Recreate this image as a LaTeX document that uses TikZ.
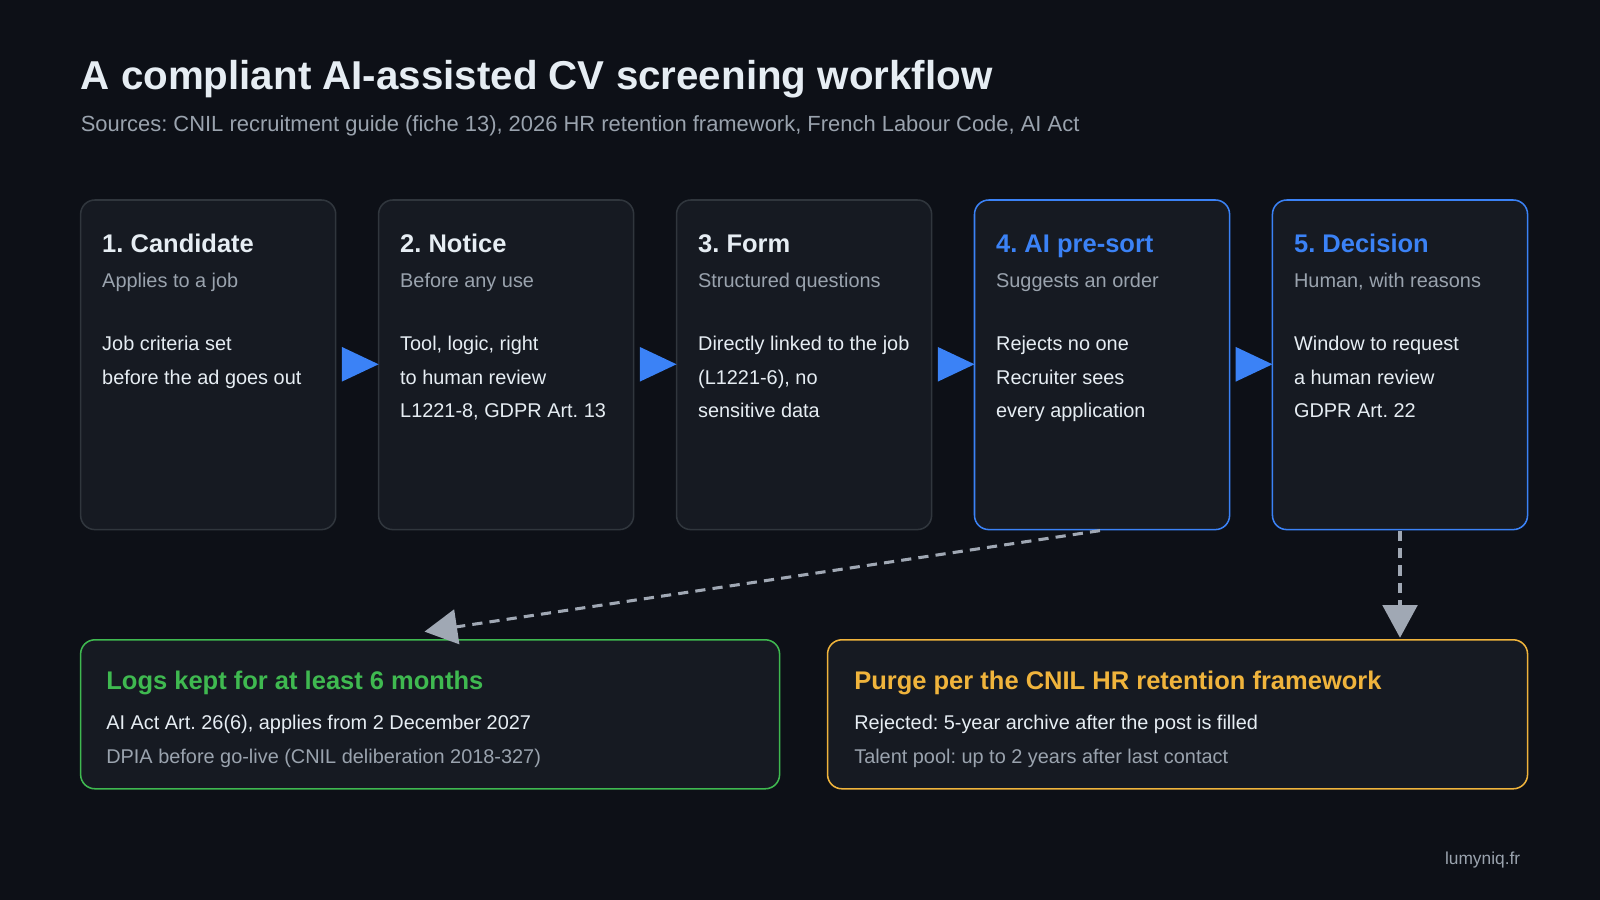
\documentclass[tikz,border=0pt]{standalone}
\usepackage{fontspec}
\setmainfont{Liberation Sans}
\usetikzlibrary{arrows.meta}
\definecolor{bg}{HTML}{0D1017}
\definecolor{boxbg}{HTML}{161A22}
\definecolor{boxln}{HTML}{30363D}
\definecolor{blu}{HTML}{3B82F6}
\definecolor{grn}{HTML}{3FB950}
\definecolor{yel}{HTML}{F0B43C}
\definecolor{txt}{HTML}{E6EDF3}
\definecolor{sub}{HTML}{9AA3AE}
\definecolor{dashc}{HTML}{A0A8B4}
\frenchspacing
\begin{document}
\begin{tikzpicture}[x=1pt,y=-1pt,
 box/.style={draw=boxln,line width=1.5pt,fill=boxbg,rounded corners=14pt},
 hd/.style={anchor=base west,font=\fontsize{25}{28}\selectfont\bfseries,text=txt},
 sb/.style={anchor=base west,font=\fontsize{19.5}{22}\selectfont,text=sub},
 bd/.style={anchor=north west,font=\fontsize{19.5}{33}\selectfont,text=txt,align=left,inner sep=0pt},
 dl/.style={dashc,line width=3pt,dash pattern=on 10pt off 7pt,-{Triangle[length=32pt,width=34pt]}}]
\useasboundingbox[fill=bg] (0,0) rectangle (1568,882);
\node[anchor=base west,inner sep=0pt,font=\fontsize{39.5}{44}\selectfont\bfseries,text=txt] (title) at (79,88) {A compliant AI-assisted CV screening workflow};
\node[anchor=base west,inner sep=0pt,font=\fontsize{21.5}{24}\selectfont,text=sub] (subt) at (79,129) {Sources: CNIL recruitment guide (fiche 13), 2026 HR retention framework, French Labour Code, AI Act};
\foreach \i/\x/\col in {1/79/boxln,2/371/boxln,3/663/boxln,4/955/blu,5/1247/blu}{
  \draw[box,draw=\col] (\x,196) rectangle ++(250,323);
}
\foreach \x/\h/\s/\b/\c in {
 79/{1. Candidate}/{Applies to a job}/{Job criteria set\\before the ad goes out}/txt,
 371/{2. Notice}/{Before any use}/{Tool, logic, right\\to human review\\L1221-8, GDPR Art. 13}/txt,
 663/{3. Form}/{Structured questions}/{Directly linked to the job\\(L1221-6), no\\sensitive data}/txt,
 955/{4. AI pre-sort}/{Suggests an order}/{Rejects no one\\Recruiter sees\\every application}/blu,
 1247/{5. Decision}/{Human, with reasons}/{Window to request\\a human review\\GDPR Art. 22}/blu}{
 \node[hd,inner sep=0pt,text=\c] at (\x+21,247) {\h};
 \node[sb,inner sep=0pt] at (\x+21,282) {\s};
 \node[bd] at (\x+21,329) {\b};
}
\foreach \x in {335,627,919,1211}{
 \fill[blu] (\x,340) -- (\x+36,357) -- (\x,374) -- cycle;
}
\draw[box,draw=grn] (79,627) rectangle (764,773);
\draw[box,draw=yel] (811,627) rectangle (1497,773);
\node[hd,inner sep=0pt,text=grn] (g) at (104,676) {Logs kept for at least 6 months};
\node[anchor=base west,inner sep=0pt,font=\fontsize{19.5}{22}\selectfont,text=txt] at (104,715) {AI Act Art. 26(6), applies from 2 December 2027};
\node[sb,inner sep=0pt] at (104,748) {DPIA before go-live (CNIL deliberation 2018-327)};
\node[hd,inner sep=0pt,text=yel] (y) at (837,676) {Purge per the CNIL HR retention framework};
\node[anchor=base west,inner sep=0pt,font=\fontsize{19.5}{22}\selectfont,text=txt] at (837,715) {Rejected: 5-year archive after the post is filled};
\node[sb,inner sep=0pt] at (837,748) {Talent pool: up to 2 years after last contact};
\coordinate (a4) at (1078,520);
\coordinate (lg) at (416,619);
\coordinate (a5) at (1372,520);
\coordinate (pg) at (1372,625);
\draw[dl] (a4) -- (lg);
\draw[dl] (a5) -- (pg);
\node[anchor=base east,inner sep=0pt,font=\fontsize{17}{20}\selectfont,text=sub] (foot) at (1490,847) {lumyniq.fr};
\end{tikzpicture}
\end{document}
